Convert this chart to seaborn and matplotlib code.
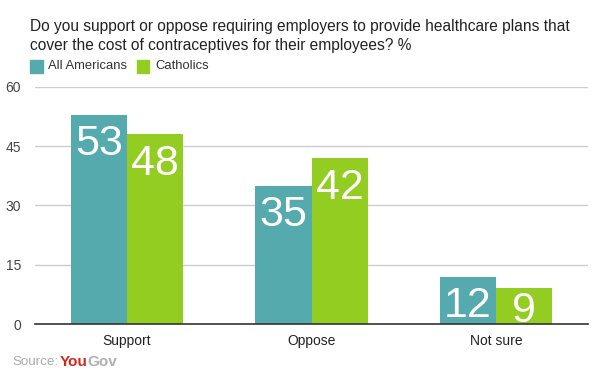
import matplotlib
matplotlib.use("Agg")
import matplotlib.pyplot as plt
import seaborn as sns
import pandas as pd
from matplotlib.patches import Rectangle

categories = ["Support", "Oppose", "Not sure"]
all_americans = [53, 35, 12]
catholics = [48, 42, 9]
series_names = ["All Americans", "Catholics"]
yticks = [0, 15, 30, 45, 60]

df = pd.DataFrame({
    "answer": categories * 2,
    "value": all_americans + catholics,
    "group": [series_names[0]] * 3 + [series_names[1]] * 3,
})

sns.set_style("white")
plt.rcParams["font.family"] = ["Liberation Sans", "DejaVu Sans"]

colors = ["#55aaae", "#93cd22"]
fig = plt.figure(figsize=(6.02, 3.83), dpi=100)
ax = fig.add_axes([0.058, 0.154, 0.919, 0.619])
sns.barplot(data=df, x="answer", y="value", hue="group", palette=colors,
            width=0.61, saturation=1, ax=ax, legend=False, linewidth=0)

ax.set_ylim(0, 60)
ax.set_yticks(yticks)
ax.set_xlim(-0.5, 2.5)
ax.grid(axis="y", color="#cccccc", linewidth=1)
ax.set_axisbelow(True)
for s in ["top", "right", "left"]:
    ax.spines[s].set_visible(False)
ax.spines["bottom"].set_color("#333333")
ax.spines["bottom"].set_linewidth(1.2)
ax.tick_params(axis="y", length=0, pad=10, labelsize=10, labelcolor="#444444")
ax.tick_params(axis="x", length=0, pad=7, labelsize=10, labelcolor="#222222")
for lab in ax.get_yticklabels():
    lab.set_horizontalalignment("right")
ax.set_xlabel("")
ax.set_ylabel("")

fig.canvas.draw()
for cont in ax.containers:
    for bar in cont:
        h = bar.get_height()
        cx = bar.get_x() + bar.get_width() / 2
        px_h = ax.transData.transform((0, h))[1] - ax.transData.transform((0, 0))[1]
        if px_h >= 44:
            ax.annotate(f"{int(h)}", (cx, h), xytext=(0, -7), textcoords="offset points",
                        ha="center", va="top", color="white", fontsize=31)
        else:
            ax.annotate(f"{int(h)}", (cx, 0), xytext=(0, 1.5), textcoords="offset points",
                        ha="center", va="baseline", color="white", fontsize=31)

fig.text(30 / 602, 1 - 36 / 383,
         "Do you support or oppose requiring employers to provide healthcare plans that\ncover the cost of contraceptives for their employees? %",
         fontsize=11.2, color="#222222", va="center", ha="left", linespacing=1.3)

# legend
ly = 1 - 66 / 383
sq = 13 / 383
fig.patches.append(Rectangle((30 / 602, ly - sq / 2), 13 / 602, sq, transform=fig.transFigure, color=colors[0]))
fig.text(48 / 602, ly, series_names[0], fontsize=9.4, color="#333333", va="center")
fig.patches.append(Rectangle((137 / 602, ly - sq / 2), 12 / 602, sq, transform=fig.transFigure, color=colors[1]))
fig.text(155 / 602, ly, series_names[1], fontsize=9.4, color="#333333", va="center")

# source
sy = 1 - 362 / 383
t1 = fig.text(12 / 602, sy, "Source:", fontsize=9.6, color="#aaaaaa", va="center")
fig.canvas.draw()
bb = t1.get_window_extent()
x2 = bb.x1 / fig.bbox.width + 0.003
t2 = fig.text(x2, sy, "You", fontsize=11, color="#d0261c", fontweight="bold", va="center")
fig.canvas.draw()
bb2 = t2.get_window_extent()
fig.text(bb2.x1 / fig.bbox.width, sy, "Gov", fontsize=11, color="#b0b0b0", fontweight="bold", va="center")

fig.savefig("out.png", dpi=100)
